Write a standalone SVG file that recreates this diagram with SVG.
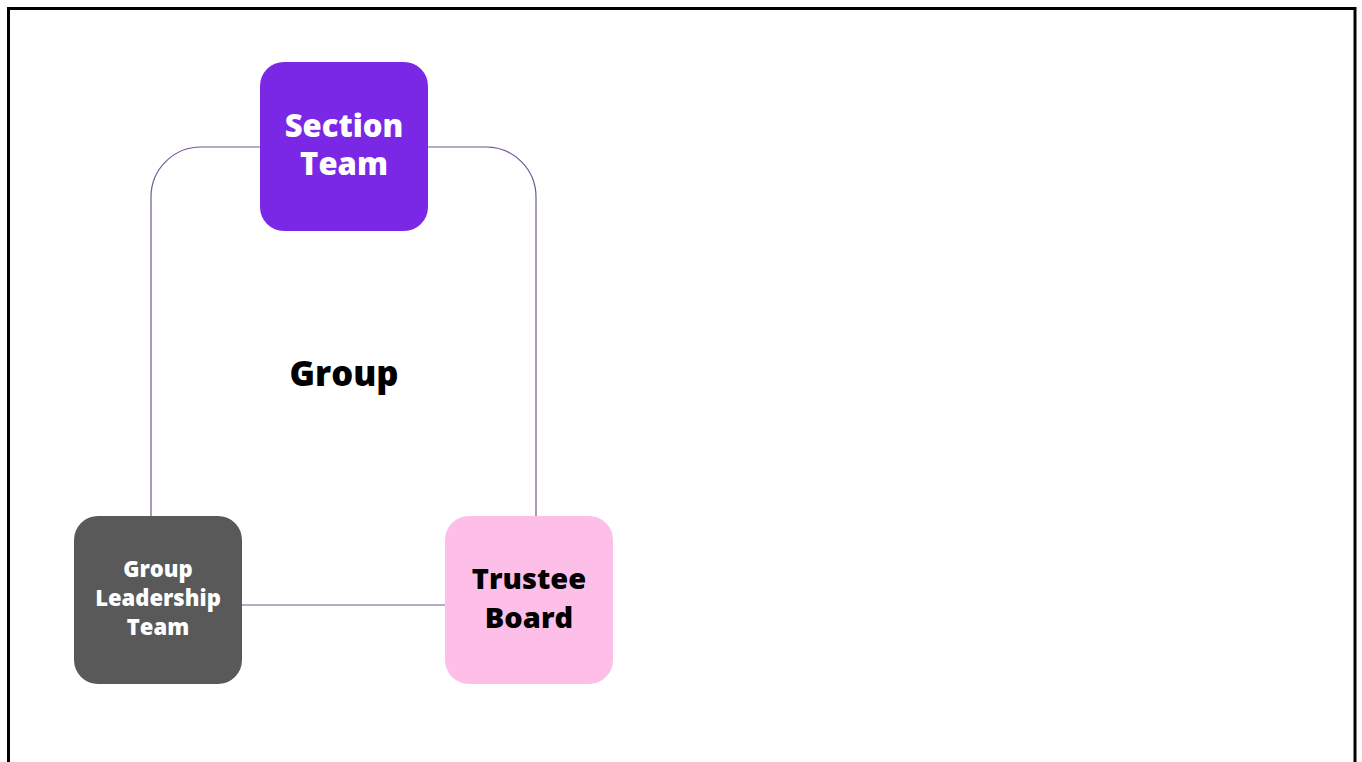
<svg xmlns="http://www.w3.org/2000/svg" width="1362" height="762" viewBox="0 0 1362 762">
  <style>
    .lbl { font-family: "Open Sans", "Noto Sans", "Liberation Sans", sans-serif; font-weight: 800; text-anchor: middle; }
    .wire { fill: none; stroke: #75559a; stroke-width: 1.2; }
  </style>
  <rect x="0" y="0" width="1362" height="762" fill="#ffffff"/>
  <!-- frame -->
  <path d="M8.5 770 V8.5 H1355 V770" fill="none" stroke="#000" stroke-width="3"/>

  <g id="connectors">
    <path class="wire" d="M260 147 H201 A50 50 0 0 0 151 197 V516"/>
    <path class="wire" d="M428 147 H486 A50 50 0 0 1 536 197 V516"/>
    <path class="wire" d="M242 605 H445"/>
  </g>

  <g id="section-team">
    <rect x="260" y="62" width="168" height="169" rx="24" fill="#7a28e5"/>
    <text class="lbl" x="344" y="137" font-size="31" fill="#ffffff">Section</text>
    <text class="lbl" x="344" y="175" font-size="31" fill="#ffffff">Team</text>
  </g>

  <g id="group">
    <text class="lbl" x="344" y="386" font-size="34.5" fill="#000000">Group</text>
  </g>

  <g id="group-leadership-team">
    <rect x="74" y="516" width="168" height="168" rx="24" fill="#595959"/>
    <text class="lbl" x="158" y="577" font-size="22" fill="#ffffff">Group</text>
    <text class="lbl" x="158" y="606" font-size="22" fill="#ffffff">Leadership</text>
    <text class="lbl" x="158" y="635" font-size="22" fill="#ffffff">Team</text>
  </g>

  <g id="trustee-board">
    <rect x="445" y="516" width="168" height="168" rx="24" fill="#fdbfe8"/>
    <text class="lbl" x="529" y="589" font-size="29" fill="#000000">Trustee</text>
    <text class="lbl" x="529" y="628" font-size="29" fill="#000000">Board</text>
  </g>
</svg>
